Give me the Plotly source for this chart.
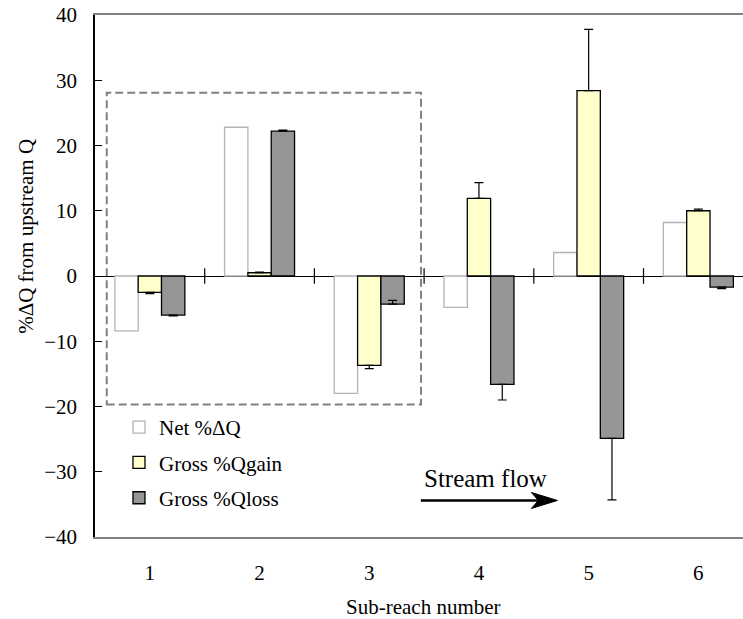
import plotly.graph_objects as go

# ---- data ----
reaches = [1, 2, 3, 4, 5, 6]
tick_labels = ["1", "2", "3", "4", "5", "6"]
net_dq = [-8.4, 22.8, -18.0, -4.8, 3.6, 8.2]
gross_gain = [-2.5, 0.5, -13.7, 11.9, 28.4, 10.0]
gross_loss = [-6.0, 22.2, -4.3, -16.6, -24.9, -1.7]
gain_err_plus = [0.0, 0.1, 0.0, 2.4, 9.4, 0.25]
gain_err_minus = [0.2, 0.0, 0.5, 0.0, 0.0, 0.0]
loss_err_plus = [0.0, 0.15, 0.55, 0.0, 0.0, 0.0]
loss_err_minus = [0.12, 0.0, 0.0, 2.4, 9.4, 0.25]

FONT = "Liberation Serif, Times New Roman, serif"

fig = go.Figure()
fig.add_trace(go.Bar(
    x=reaches, y=net_dq, name="Net %ΔQ", legendgroup="a",
    marker=dict(color="white", line=dict(color="#b4b4b4", width=1.3)),
))
fig.add_trace(go.Bar(
    x=reaches, y=gross_gain, name="Gross %Qgain", legendgroup="b",
    marker=dict(color="#ffffcc", line=dict(color="black", width=1.3)),
    error_y=dict(type="data", symmetric=False, array=gain_err_plus,
                 arrayminus=gain_err_minus, color="black", thickness=1.2, width=4.5),
))
fig.add_trace(go.Bar(
    x=reaches, y=gross_loss, name="Gross %Qloss", legendgroup="c",
    marker=dict(color="#969696", line=dict(color="black", width=1.3)),
    error_y=dict(type="data", symmetric=False, array=loss_err_plus,
                 arrayminus=loss_err_minus, color="black", thickness=1.2, width=4.5),
))

shapes = []
# crossing tick marks on the zero line at category boundaries
for b in [1.5, 2.5, 3.5, 4.5, 5.5, 6.5]:
    shapes.append(dict(type="line", xref="x", yref="y", x0=b, x1=b, y0=-1.2, y1=1.2,
                       line=dict(color="black", width=1.2)))
# dashed box
shapes.append(dict(type="rect", xref="x", yref="y", x0=0.607, x1=3.472, y0=-19.7, y1=28.1,
                   line=dict(color="#808080", width=2, dash="8px,4px"), fillcolor="rgba(0,0,0,0)"))
# stream flow arrow
shapes.append(dict(type="line", xref="x", yref="y", x0=3.47, x1=4.62, y0=-34.4, y1=-34.4,
                   line=dict(color="black", width=2.5)))
shapes.append(dict(type="path", xref="x", yref="y", xsizemode="pixel", ysizemode="pixel",
                   xanchor=4.715, yanchor=-34.4,
                   path="M0,0 L-26,8 L-19,0 L-26,-8 Z",
                   fillcolor="black", line=dict(color="black", width=1)))

annotations = [
    dict(text="Stream flow", xref="x", yref="y", x=3.478, y=-31.0, xanchor="left",
         yanchor="middle", showarrow=False, font=dict(family=FONT, size=25, color="black")),
    dict(text="%ΔQ from upstream Q", xref="paper", yref="paper", x=-0.1065, y=0.577,
         textangle=-90, showarrow=False, xanchor="center", yanchor="middle",
         font=dict(family=FONT, size=21, color="black")),
    dict(text="Sub-reach number", xref="paper", yref="paper", x=0.507, y=-0.134,
         showarrow=False, xanchor="center", yanchor="middle",
         font=dict(family=FONT, size=21, color="black")),
]

fig.update_layout(
    width=743, height=619,
    margin=dict(l=95, r=0, t=15, b=82),
    paper_bgcolor="white", plot_bgcolor="white",
    barmode="group", bargap=0.362, bargroupgap=0,
    font=dict(family=FONT, size=21, color="black"),
    showlegend=True,
    legend=dict(x=0.037, y=0.249, xanchor="left", yanchor="top",
                bgcolor="rgba(0,0,0,0)", traceorder="grouped", tracegroupgap=5,
                font=dict(family=FONT, size=21, color="black")),
    shapes=shapes, annotations=annotations,
    xaxis=dict(range=[0.5, 6.407], tickmode="array", tickvals=reaches, ticktext=tick_labels,
               showline=True, linecolor="#808080", linewidth=2, mirror=True,
               ticks="", showgrid=False, zeroline=False, ticklabelstandoff=16,
               tickfont=dict(family=FONT, size=21, color="black")),
    yaxis=dict(range=[-40, 40], dtick=10, tick0=0, showline=True, linecolor="black",
               linewidth=1.5, ticks="inside", ticklen=7, tickcolor="black", tickwidth=1.3,
               showgrid=False, zeroline=True, zerolinecolor="black", zerolinewidth=1.2,
               ticklabelstandoff=12, tickfont=dict(family=FONT, size=21, color="black")),
)

fig.write_html("out.html")
